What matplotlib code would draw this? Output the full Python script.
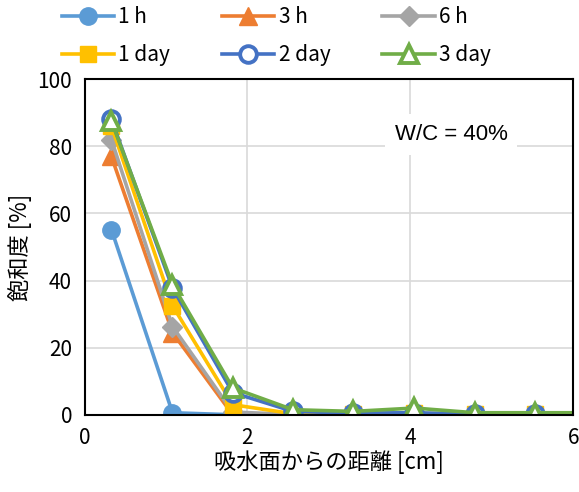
import matplotlib
matplotlib.use("Agg")
import matplotlib.pyplot as plt

plt.rcParams["font.family"] = ["Noto Sans CJK JP", "DejaVu Sans"]

# 吸水面からの距離 [cm] (最後の点は軸の外側)
distance = [0.33, 1.08, 1.82, 2.56, 3.30, 4.05, 4.79, 5.53, 6.27]

series_labels = ["1 h", "3 h", "6 h", "1 day", "2 day", "3 day"]
sat_1h = [55.2, 0.6, 0.0, 0.0, 0.0, 0.0, 0.0, 0.0, 0.0]
sat_3h = [77.0, 24.5, 0.0, 0.0, 0.0, 0.0, 0.0, 0.0, 0.0]
sat_6h = [82.0, 26.3, 0.8, 0.1, 0.1, 0.1, 0.0, 0.0, 0.0]
sat_1day = [86.0, 32.5, 3.0, 0.3, 0.3, 0.4, 0.2, 0.2, 0.2]
sat_2day = [88.0, 37.8, 6.6, 1.0, 0.5, 0.6, 0.2, 0.2, 0.2]
sat_3day = [87.5, 38.8, 8.0, 1.5, 1.0, 2.0, 0.6, 0.6, 0.6]

colors = ["#5B9BD5", "#ED7D31", "#A5A5A5", "#FFC000", "#4472C4", "#70AD47"]
markers = ["o", "^", "D", "s", "o", "^"]
sizes = [12.5, 12.5, 10, 11.5, 12, 12.5]
hollow = [False, False, False, False, True, True]

fig = plt.figure(figsize=(5.79, 4.92), dpi=100)
ax = fig.add_axes([0.146, 0.157, 0.844, 0.682])

handles = []
all_series = [sat_1h, sat_3h, sat_6h, sat_1day, sat_2day, sat_3day]
for vals, lab, c, m, ms, h in zip(all_series, series_labels, colors, markers, sizes, hollow):
    ln, = ax.plot(distance, vals, color=c, lw=2.6, marker=m, ms=ms,
                  markerfacecolor="white" if h else c,
                  markeredgecolor=c, markeredgewidth=2.8 if h else 1,
                  label=lab, clip_on=True)
    handles.append(ln)

ax.set_xlim(0, 6)
ax.set_ylim(0, 100)
ax.set_xticks([0, 2, 4, 6])
ax.set_yticks([0, 20, 40, 60, 80, 100])
ax.grid(True, color="#D9D9D9", lw=1.2)
ax.set_axisbelow(True)
ax.tick_params(length=0, labelsize=15, pad=9)
for sp in ax.spines.values():
    sp.set_color("black")
    sp.set_linewidth(1.5)

ax.set_xlabel("吸水面からの距離 [cm]", fontsize=16, labelpad=1)
ax.set_ylabel("飽和度 [%]", fontsize=16, labelpad=4)

ax.text(0.75, 0.835, "W/C = 40%", transform=ax.transAxes, ha="center", va="center",
        fontsize=16, family="Liberation Sans",
        bbox=dict(facecolor="white", edgecolor="none", pad=7))

# 行方向に並べるため順序を入れ替え
order = [0, 3, 1, 4, 2, 5]
fig.legend([handles[i] for i in order], [series_labels[i] for i in order],
           ncol=3, loc="upper left", bbox_to_anchor=(0.075, 1.025), frameon=False,
           fontsize=15, handlelength=2.5, handletextpad=0.2, columnspacing=2.5,
           labelspacing=0.75)

fig.savefig("out.png", dpi=100)
